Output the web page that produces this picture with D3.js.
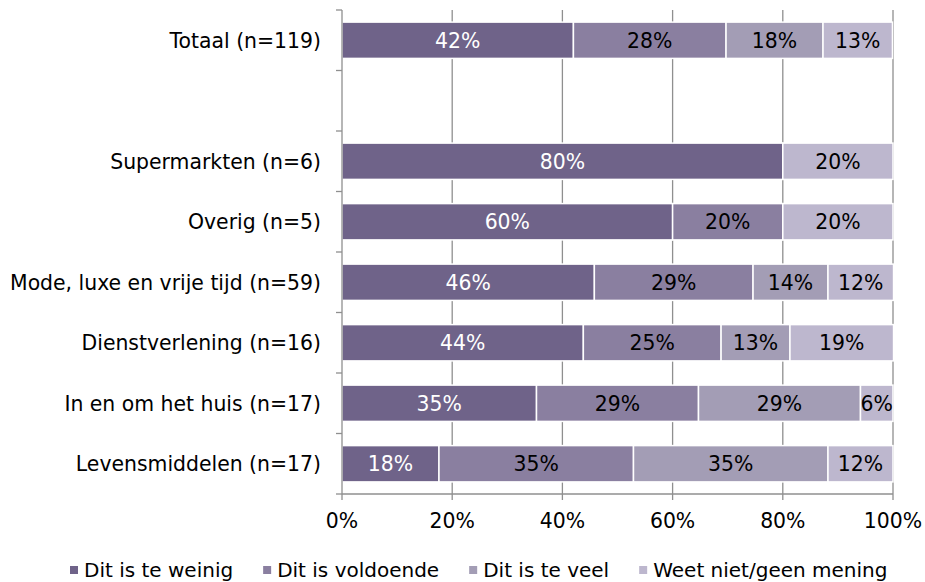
<!DOCTYPE html>
<html><head><meta charset="utf-8">
<script src="https://cdn.jsdelivr.net/npm/d3@7"></script>
<style>body{margin:0;background:#fff;} text{font-family:"DejaVu Sans",Verdana,sans-serif;}</style>
</head><body><svg id="c" width="925" height="582"></svg>
<script>
const categories = ["Totaal (n=119)", "", "Supermarkten (n=6)", "Overig (n=5)", "Mode, luxe en vrije tijd (n=59)", "Dienstverlening (n=16)", "In en om het huis (n=17)", "Levensmiddelen (n=17)"];
const seriesNames = ["Dit is te weinig", "Dit is voldoende", "Dit is te veel", "Weet niet/geen mening"];
const teWeinig   = [42.0, null, 80, 60, 45.8, 43.8, 35.3, 17.6];
const voldoende  = [27.7, null, 0, 20, 28.8, 25.0, 29.4, 35.3];
const teVeel     = [17.6, null, 0, 0, 13.6, 12.5, 29.4, 35.3];
const weetNiet   = [12.6, null, 20, 20, 11.9, 18.8, 5.9, 11.8];
const xTicks = [0, 20, 40, 60, 80, 100];
const colors = ["#6f6389", "#8a7fa0", "#a39db5", "#bdb7ce"];
const labelColors = ["#ffffff", "#000000", "#000000", "#000000"];

(function () {
const svg = d3.select("#c");
const mL = 342, mR = 893, mT = 10, mB = 494;
const fs = 20.4;
const x = d3.scaleLinear().domain([0, 100]).range([mL, mR]);
const y = d3.scaleBand().domain(d3.range(categories.length)).range([mT, mB]).paddingInner(0.4).paddingOuter(0.2);
const slot = (mB - mT) / categories.length;
const gridCol = "#8f8f8f";

// gridlines
svg.append("g").selectAll("line").data(xTicks.slice(1)).join("line")
  .attr("x1", d => x(d)).attr("x2", d => x(d)).attr("y1", mT).attr("y2", mB)
  .attr("stroke", gridCol).attr("stroke-width", 1.3);

// bars
const series = [teWeinig, voldoende, teVeel, weetNiet];
const rows = categories.map((c, i) => ({i, vals: series.map(s => s[i])}));
const g = svg.append("g");
rows.forEach(r => {
  if (r.vals[0] === null) return;
  let acc = 0;
  r.vals.forEach((v, k) => {
    const x0 = acc; acc += v;
    if (!v) return;
    g.append("rect").attr("x", x(x0)).attr("y", y(r.i)).attr("width", x(acc) - x(x0)).attr("height", y.bandwidth())
      .attr("fill", colors[k]).attr("stroke", "#fff").attr("stroke-width", 1.5);
    g.append("text").attr("x", (x(x0) + x(acc)) / 2).attr("y", y(r.i) + y.bandwidth() / 2).attr("dy", "0.36em")
      .attr("text-anchor", "middle").attr("font-size", fs).attr("fill", labelColors[k])
      .text(Math.round(v) + "%");
  });
});

// y axis
svg.append("line").attr("x1", mL).attr("x2", mL).attr("y1", mT).attr("y2", mB).attr("stroke", gridCol).attr("stroke-width", 1.3);
svg.append("g").selectAll("line").data(d3.range(categories.length + 1)).join("line")
  .attr("x1", mL - 6).attr("x2", mL).attr("y1", d => mT + d * slot).attr("y2", d => mT + d * slot)
  .attr("stroke", gridCol).attr("stroke-width", 1.3);
svg.append("g").selectAll("text").data(categories).join("text")
  .attr("x", mL - 21).attr("y", (d, i) => y(i) + y.bandwidth() / 2).attr("dy", "0.36em")
  .attr("text-anchor", "end").attr("font-size", fs).attr("fill", "#000").text(d => d);

// x axis
svg.append("line").attr("x1", mL).attr("x2", mR).attr("y1", mB).attr("y2", mB).attr("stroke", gridCol).attr("stroke-width", 1.3);
svg.append("g").selectAll("line").data(xTicks).join("line")
  .attr("x1", d => x(d)).attr("x2", d => x(d)).attr("y1", mB).attr("y2", mB + 6)
  .attr("stroke", gridCol).attr("stroke-width", 1.3);
svg.append("g").selectAll("text").data(xTicks).join("text")
  .attr("x", d => x(d)).attr("y", 528).attr("text-anchor", "middle").attr("font-size", fs).attr("fill", "#000")
  .text(d => d + "%");

// legend
const leg = svg.append("g");
let lx = 70;
seriesNames.forEach((n, k) => {
  leg.append("rect").attr("x", lx).attr("y", 566).attr("width", 8).attr("height", 8).attr("fill", colors[k]);
  const t = leg.append("text").attr("x", lx + 14).attr("y", 577).attr("font-size", 20).attr("fill", "#000").text(n);
  lx += 14 + t.node().getComputedTextLength() + 30;
});
})();
</script></body></html>
